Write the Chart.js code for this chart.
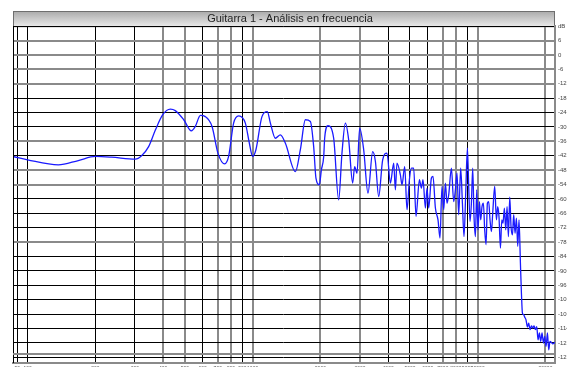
<!DOCTYPE html>
<html>
<head>
<meta charset="utf-8">
<script src="https://cdn.jsdelivr.net/npm/chart.js@4.4.0/dist/chart.umd.min.js"></script>
<style>
  html, body { margin: 0; padding: 0; background: #fff; overflow: hidden; width: 567px; height: 367px; }
  #wrap { position: relative; width: 567px; height: 375px; }
</style>
</head>
<body>
<div id="wrap"><canvas id="spectrum" width="567" height="375"></canvas></div>
<script>
// Frequency response of the guitar recording (Hz / dB)
const frequencies = [
  86.13, 100, 137, 168, 200, 236, 301, 321, 345, 370, 398, 431, 453, 494, 534, 556, 586, 616, 660, 701,
  751, 782, 823, 867, 928, 967, 1000, 1034, 1100, 1162, 1199, 1261, 1328, 1398, 1548, 1629, 1715, 1805, 1867, 1911,
  1979, 2020, 2069, 2089, 2161, 2291, 2411, 2494, 2582, 2671, 2782, 2840, 2908, 2989, 3114, 3254, 3415, 3511, 3631, 3782,
  3953, 4093, 4234, 4307, 4378, 4533, 4609, 4738, 4851, 4971, 5074, 5195, 5319, 5507, 5621, 5714, 5856, 5952, 6056, 6226,
  6329, 6486, 6662, 6799, 6939, 7062, 7185, 7305, 7432, 7640, 7822, 7959, 8091, 8232, 8400, 8551, 8692, 8845, 8999, 9120,
  9242, 9375, 9501, 9629, 9768, 9898, 10030, 10180, 10310, 10450, 10600, 10740, 10890, 11040, 11190, 11340, 11510, 11660, 11900, 12110,
  12270, 12430, 12620, 12790, 12950, 13140, 13320, 13500, 13690, 13880, 14060, 14270, 14450, 14650, 14860, 15060, 15260, 15480, 15640, 15800,
  16010, 16180, 16390, 16630, 16850, 17080, 17330, 17560, 17790, 18050, 18290, 18540, 18800, 19050, 19310, 19590, 19850, 20120, 20410, 20680,
  20950, 21260, 21540, 22050
];
const levels = [
  -42.3, -43.7, -45.8, -44.0, -42.3, -42.6, -43.4, -42.0, -38.2, -31.2, -25.0, -22.6, -23.2, -27.0, -31.6, -29.8, -25.2, -25.7, -29.8, -40.9,
  -45.4, -42.3, -28.4, -25.4, -28.4, -36.8, -42.3, -39.5, -25.7, -23.6, -28.4, -34.7, -33.3, -36.8, -48.6, -39.5, -27.0, -27.7, -38.2, -51.3,
  -54.1, -47.9, -42.3, -34.7, -29.5, -34.7, -60.4, -40.9, -28.4, -35.4, -53.4, -46.5, -49.3, -30.5, -39.5, -57.6, -40.3, -44.4, -59.0, -43.7,
  -40.9, -53.4, -45.1, -56.2, -45.1, -50.0, -54.1, -46.5, -64.5, -52.0, -47.2, -47.2, -67.3, -52.0, -55.5, -52.0, -63.8, -55.5, -63.8, -51.3,
  -50.6, -63.8, -68.7, -76.3, -54.8, -64.5, -53.4, -61.8, -58.3, -47.2, -61.1, -56.2, -49.3, -66.6, -47.2, -61.8, -75.7, -57.6, -38.8, -54.8,
  -69.4, -61.8, -47.2, -67.3, -75.7, -56.2, -72.9, -61.1, -68.7, -63.2, -61.8, -72.9, -79.1, -61.8, -61.1, -68.7, -73.6, -65.9, -54.8, -68.7,
  -63.2, -67.3, -80.5, -68.7, -70.1, -63.8, -72.9, -63.2, -75.7, -59.3, -71.5, -75.0, -66.6, -74.3, -68.0, -79.8, -68.7, -86.8, -99.3, -107.6,
  -108.3, -109.3, -110.4, -113.4, -111.8, -114.5, -112.9, -113.8, -112.9, -114.5, -113.2, -118.7, -115.9, -119.4, -115.9, -120.1, -117.3, -121.5, -115.9, -122.9,
  -119.4, -119.8, -120.4, -119.8
];

// Axis ticks
const freqTicks = [90, 100, 200, 300, 400, 500, 600, 700, 800, 900, 1000, 2000, 3000, 4000, 5000, 6000, 7000, 8000, 9000, 10000, 20000];
const levelTicks = [12, 6, 0, -6, -12, -18, -24, -30, -36, -42, -48, -54, -60, -66, -72, -78, -84, -90, -96, -102, -108, -114, -120, -126];

// Grid lines drawn in the softer grey tone
const greyFreqLines = [400, 500, 700, 800, 1000, 2000, 3000, 7000, 8000, 10000, 20000];
const greyLevelLines = [6, 0, -6, -12, -36, -48, -54, -78];
const floorLevel = -124.6;

const FONT = "'Liberation Sans', Arial, sans-serif";

const panelPlugin = {
  id: 'panel',
  beforeDraw(chart) {
    const { ctx, chartArea: a } = chart;
    ctx.save();
    ctx.fillStyle = '#fff';
    ctx.fillRect(0, 0, chart.width, chart.height);
    // title bar
    const top = 11;
    const g = ctx.createLinearGradient(0, top, 0, a.top);
    g.addColorStop(0, '#a9a9a9');
    g.addColorStop(1, '#e8e8e8');
    ctx.fillStyle = g;
    ctx.fillRect(a.left, top, a.right - a.left, a.top - top);
    ctx.strokeStyle = '#6e6e6e';
    ctx.lineWidth = 1;
    ctx.strokeRect(a.left + 0.5, top + 0.5, a.right - a.left - 1, a.top - top);
    ctx.restore();
  },
  afterDraw(chart) {
    const { ctx, chartArea: a } = chart;
    const y = chart.scales.y;
    ctx.save();
    ctx.strokeStyle = '#000';
    ctx.lineWidth = 1;
    ctx.beginPath();
    ctx.moveTo(a.left + 0.5, a.top);
    ctx.lineTo(a.left + 0.5, a.bottom);
    ctx.stroke();
    const fy = Math.round(y.getPixelForValue(floorLevel));
    ctx.strokeStyle = '#8a8a8a';
    ctx.lineWidth = 2;
    ctx.beginPath();
    ctx.moveTo(a.left, fy);
    ctx.lineTo(a.right, fy);
    ctx.stroke();
    ctx.restore();
  }
};

new Chart(document.getElementById('spectrum'), {
  type: 'line',
  data: {
    datasets: [{
      data: frequencies.map((f, i) => ({ x: f, y: levels[i] })),
      borderColor: '#1a1aff',
      borderWidth: 1.3,
      pointRadius: 0,
      fill: false,
      cubicInterpolationMode: 'monotone'
    }]
  },
  options: {
    responsive: false,
    devicePixelRatio: 1,
    animation: false,
    layout: { padding: { left: 13, right: 0, top: 0, bottom: 0 } },
    plugins: {
      legend: { display: false },
      tooltip: { enabled: false },
      title: {
        display: true,
        text: 'Guitarra 1 - Análisis en frecuencia',
        color: '#222',
        font: { family: FONT, size: 11, weight: 'normal' },
        padding: { top: 12, bottom: 1 }
      }
    },
    scales: {
      x: {
        type: 'logarithmic',
        position: 'bottom',
        min: 86.13,
        max: 22050,
        afterBuildTicks: s => { s.ticks = freqTicks.map(v => ({ value: v })); },
        afterFit: s => { s.height = 12; },
        ticks: {
          autoSkip: false,
          maxRotation: 0,
          padding: 2,
          color: '#555',
          font: { family: FONT, size: 5 },
          callback: v => String(v)
        },
        grid: {
          color: c => (c.tick && greyFreqLines.includes(c.tick.value)) ? '#8a8a8a' : '#000',
          lineWidth: c => (c.tick && greyFreqLines.includes(c.tick.value)) ? 2 : 1,
          tickLength: 1
        },
        border: { display: true, color: '#8a8a8a', width: 2 }
      },
      y: {
        position: 'right',
        min: -128.4,
        max: 12,
        afterBuildTicks: s => { s.ticks = levelTicks.map(v => ({ value: v })); },
        afterFit: s => { s.width = 12; },
        ticks: {
          padding: 2,
          color: '#444',
          font: { family: FONT, size: 6 },
          callback: v => v === 12 ? 'dB' : String(v)
        },
        grid: {
          color: c => (c.tick && greyLevelLines.includes(c.tick.value)) ? '#8a8a8a' : '#000',
          lineWidth: c => (c.tick && greyLevelLines.includes(c.tick.value)) ? 2 : 1,
          tickLength: 1
        },
        border: { display: true, color: '#8a8a8a', width: 2 }
      }
    }
  },
  plugins: [panelPlugin]
});
</script>
</body>
</html>
